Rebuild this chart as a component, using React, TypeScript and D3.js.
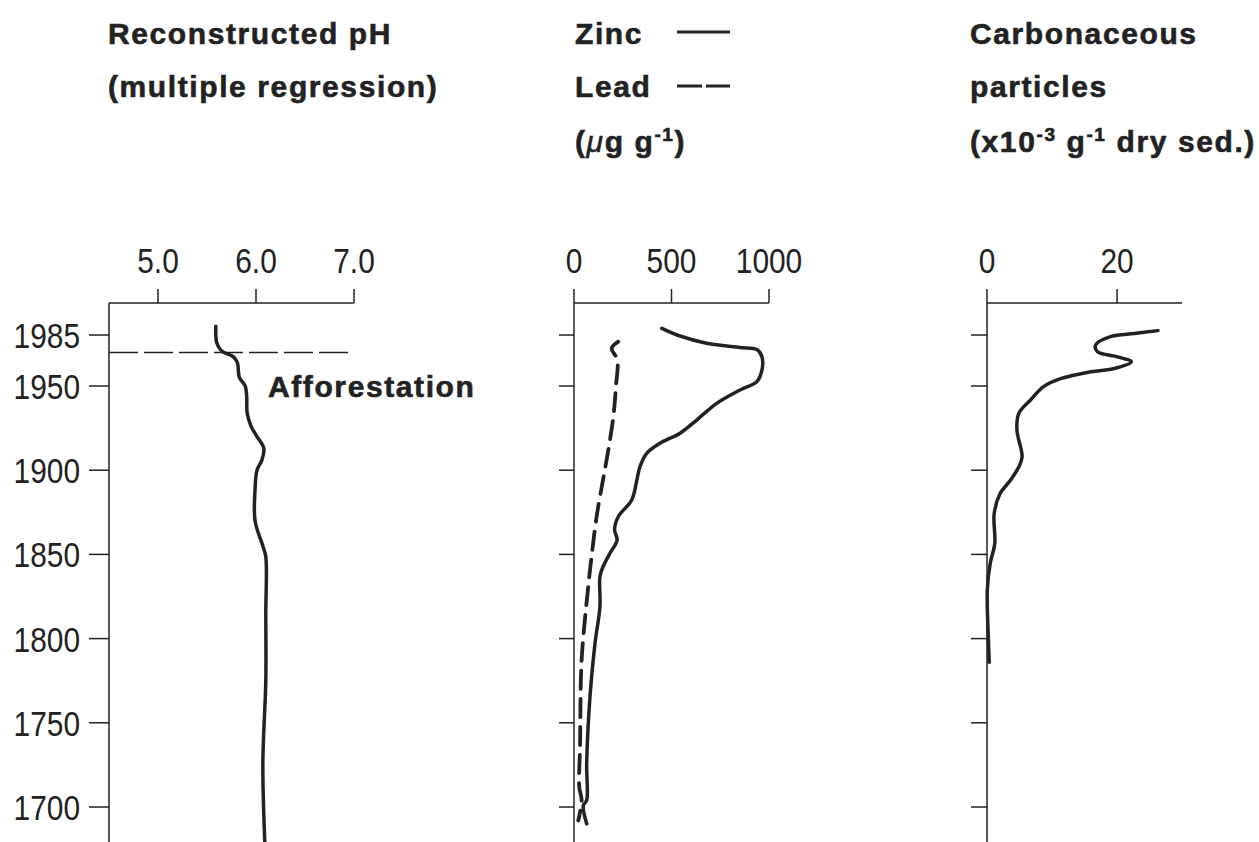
import React from 'react';
import * as d3 from 'd3';

// Age ticks on the shared vertical axis
const yearTicks = [1985, 1950, 1900, 1850, 1800, 1750, 1700];
// Top-axis ticks for each panel
const phTicks = [5.0, 6.0, 7.0];
const metalTicks = [0, 500, 1000];
const carbonTicks = [0, 20];
const afforestationYear = 1973;

// Reconstructed pH (multiple regression)
const phYears = [1991, 1979.5, 1974, 1970, 1966, 1956, 1950, 1943.7, 1934, 1926, 1920, 1913, 1906, 1900, 1888, 1870, 1855, 1848.6, 1815, 1775, 1726, 1679];
const phValues = [5.59, 5.6, 5.65, 5.77, 5.81, 5.83, 5.89, 5.905, 5.91, 5.95, 6.01, 6.08, 6.06, 6.01, 5.99, 5.99, 6.07, 6.1, 6.1, 6.1, 6.07, 6.09];

// Zinc (µg g-1)
const zincYears = [1989.6, 1984.3, 1979.3, 1976.4, 1975, 1970, 1961, 1953, 1947.6, 1939.7, 1929.8, 1922, 1916, 1910, 1902, 1894, 1882.3, 1872.4, 1864.5, 1858.6, 1850.8, 1842.7, 1836.8, 1819, 1797.4, 1765.5, 1726, 1704, 1701, 1690];
const zincValues = [450, 544, 680, 851, 938, 964, 964, 938, 851, 732, 629, 544, 441, 373, 338, 322, 296, 227, 208, 221, 185, 149, 133, 133, 108, 82, 65, 65, 48, 65];

// Lead (µg g-1)
const leadYears = [1980.4, 1975.7, 1968, 1949.6, 1932, 1912, 1895, 1872.4, 1848.6, 1830.8, 1787, 1736, 1712, 1704, 1692];
const leadValues = [227, 193, 222, 215, 202, 176, 150, 116, 90, 73, 39, 31, 27, 39, 22];

// Carbonaceous particles (x10-3 g-1 dry sed.)
const carbonYears = [1988, 1986, 1984, 1978, 1973.5, 1970, 1966.6, 1962, 1959.8, 1955, 1949.6, 1941.7, 1933.8, 1924, 1908, 1902, 1894, 1886, 1874, 1856.6, 1844.7, 1829, 1801, 1786];
const carbonValues = [26.3, 22.7, 19.1, 16.7, 17.0, 20.1, 22.2, 19.6, 16.0, 11.3, 8.7, 6.7, 4.9, 4.6, 5.4, 4.9, 3.6, 2.0, 1.1, 1.2, 0.5, 0.05, 0.2, 0.35];

const W = 1259;
const H = 842;
const INK = '#222';
const numFont = "'Liberation Sans', Arial, sans-serif";
const titleFont = "'Liberation Sans', Arial, sans-serif";

const axisTop = 303;
const y = d3.scaleLinear().domain([1985, 1950, 1700]).range([335, 386, 807]);

const xPh = d3.scaleLinear().domain([4.5, 7.0]).range([109, 354]);
const xMetal = d3.scaleLinear().domain([0, 1000]).range([574, 769]);
const xCarbon = d3.scaleLinear().domain([0, 30]).range([987, 1182]);

const pairs = (ys: number[], vs: number[]) => ys.map((yr, i) => [yr, vs[i]] as [number, number]);

const lineFor = (x: d3.ScaleLinear<number, number>) =>
  d3.line<[number, number]>()
    .x((d) => x(d[1]))
    .y((d) => y(d[0]))
    .curve(d3.curveCatmullRom.alpha(0.5));

// Tall, condensed numerals: regular face squeezed horizontally
function NarrowText({ x, y: yy, anchor, children }: { x: number; y: number; anchor: 'start' | 'middle' | 'end'; children: React.ReactNode }) {
  return (
    <text transform={`translate(${x},${yy}) scale(0.83,1)`} textAnchor={anchor} fontFamily={numFont} fontSize={36} fill={INK}>
      {children}
    </text>
  );
}

function Frame({ x, ticks, fmt, yTickLen, zeroStub }: {
  x: d3.ScaleLinear<number, number>;
  ticks: number[];
  fmt: (v: number) => string;
  yTickLen: number;
  zeroStub: boolean;
}) {
  const [x0, x1] = x.range();
  return (
    <g>
      <line x1={x0} x2={x1} y1={axisTop} y2={axisTop} stroke={INK} strokeWidth={1.5} />
      <line x1={x0} x2={x0} y1={zeroStub ? axisTop - 14 : axisTop} y2={H} stroke={INK} strokeWidth={1.5} />
      {ticks.map((t) => (
        <g key={t}>
          {x(t) > x0 + 1 && (
            <line x1={x(t)} x2={x(t)} y1={axisTop} y2={axisTop - 14} stroke={INK} strokeWidth={1.5} />
          )}
          <NarrowText x={x(t)} y={273} anchor="middle">{fmt(t)}</NarrowText>
        </g>
      ))}
      {yearTicks.map((yr) => (
        <line key={yr} x1={x0 - yTickLen} x2={x0} y1={y(yr)} y2={y(yr)} stroke={INK} strokeWidth={1.5} />
      ))}
    </g>
  );
}

export default function App() {
  const phPath = lineFor(xPh)(pairs(phYears, phValues)) || '';
  const zincPath = lineFor(xMetal)(pairs(zincYears, zincValues)) || '';
  const leadPath = lineFor(xMetal)(pairs(leadYears, leadValues)) || '';
  const carbonPath = lineFor(xCarbon)(pairs(carbonYears, carbonValues)) || '';

  const titleProps = {
    fontFamily: titleFont, fontSize: 30, fontWeight: 700, fill: INK,
    stroke: INK, strokeWidth: 0.6, letterSpacing: 1.6,
  };

  return (
    <svg width={W} height={H} style={{ position: 'absolute', left: 0, top: 0, background: '#fff' }}>
      {/* Titles */}
      <text x={108} y={44} {...titleProps}>Reconstructed pH</text>
      <text x={108} y={97} {...titleProps}>(multiple regression)</text>

      <text x={575} y={44} {...titleProps}>Zinc</text>
      <line x1={677} x2={730} y1={32} y2={32} stroke={INK} strokeWidth={3} />
      <text x={575} y={97} {...titleProps}>Lead</text>
      <line x1={677} x2={730} y1={86} y2={86} stroke={INK} strokeWidth={3} strokeDasharray="25,4" />
      <text x={575} y={152} {...titleProps}>
        (<tspan fontStyle="italic" fontWeight={400}>μ</tspan>g g<tspan dy={-11} fontSize={19}>-1</tspan><tspan dy={11}>)</tspan>
      </text>

      <text x={970} y={44} {...titleProps}>Carbonaceous</text>
      <text x={970} y={97} {...titleProps}>particles</text>
      <text x={970} y={152} {...titleProps}>
        (x10<tspan dy={-11} fontSize={19}>-3</tspan><tspan dy={11}> g</tspan><tspan dy={-11} fontSize={19}>-1</tspan><tspan dy={11}> dry sed.)</tspan>
      </text>

      {/* Axes */}
      <Frame x={xPh} ticks={phTicks} fmt={(v) => v.toFixed(1)} yTickLen={20} zeroStub={false} />
      <Frame x={xMetal} ticks={metalTicks} fmt={(v) => String(v)} yTickLen={15} zeroStub={true} />
      <Frame x={xCarbon} ticks={carbonTicks} fmt={(v) => String(v)} yTickLen={16} zeroStub={true} />

      {yearTicks.map((yr) => (
        <NarrowText key={yr} x={80} y={y(yr) + 13} anchor="end">{yr}</NarrowText>
      ))}

      {/* Afforestation marker */}
      <line x1={xPh.range()[0]} x2={xPh.range()[1]} y1={y(afforestationYear)} y2={y(afforestationYear)}
        stroke={INK} strokeWidth={1.5} strokeDasharray="29,6" />
      <text x={268} y={397} {...titleProps}>Afforestation</text>

      {/* Profiles */}
      <path d={phPath} fill="none" stroke={INK} strokeWidth={3.5} strokeLinecap="round" strokeLinejoin="round" />
      <path d={zincPath} fill="none" stroke={INK} strokeWidth={3.5} strokeLinecap="round" strokeLinejoin="round" />
      <path d={leadPath} fill="none" stroke={INK} strokeWidth={3.8} strokeLinecap="round" strokeDasharray="18,10" />
      <path d={carbonPath} fill="none" stroke={INK} strokeWidth={3.5} strokeLinecap="round" strokeLinejoin="round" />
    </svg>
  );
}
